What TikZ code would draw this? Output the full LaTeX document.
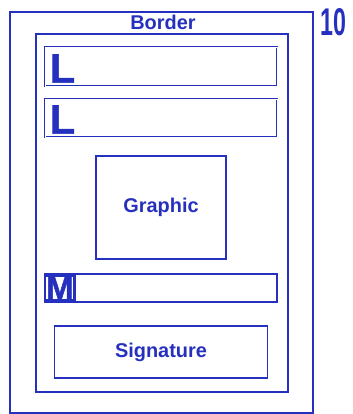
\documentclass[tikz,border=0pt]{standalone}
\usepackage{fontspec}
\setmainfont{Liberation Sans}
\newfontfamily\heavyfont{Liberation Sans Bold}[FakeBold=1.5]
\usetikzlibrary{positioning}
\definecolor{inkblue}{RGB}{38,48,190}

\begin{document}
\begin{tikzpicture}[node distance=4mm, every node/.style={inkblue,font=\bfseries\fontsize{17}{20}\selectfont,align=center,inner sep=0pt,outer sep=0pt}, frame/.style={draw=inkblue,line width=1.1pt,anchor=north west}, box/.style={draw=inkblue,line width=1.1pt,minimum width=6.96cm}, linebox/.style={box,double=white,line width=0.55pt,double distance=0.5pt}, letter/.style={text depth=0pt,font=\heavyfont\fontsize{35}{38}\selectfont}]
  \useasboundingbox (0,0) rectangle (10.56,-12.42);
  \node[frame,minimum width=9.09cm,minimum height=12.03cm] (outer) at (0.30,-0.36) {};
  \node[frame,minimum width=7.56cm,minimum height=10.74cm] (inner) at (1.08,-1.02) {};
  \node (title) at (4.89,-0.66) {Border};
  \node (num) at (9.99,-0.66) {\scalebox{0.6}[1]{\fontsize{33}{36}\selectfont 10}};
  \node[linebox,minimum height=1.17cm,anchor=north west] (l1) at (1.35,-1.41) {};
  \node[linebox,minimum height=1.14cm,below=0.39cm of l1] (l2) {};
  \node[box,minimum width=3.90cm,minimum height=3.09cm,below=0.57cm of l2] (graphic) {Graphic};
  \node[box,minimum height=0.84cm,below=0.45cm of graphic] (mline) {};
  \node[box,minimum width=6.39cm,minimum height=1.56cm,below=0.72cm of mline] (sign) {Signature};
  % letters at the left end of each line
  \node[letter,above right=0.10cm and 0.15cm of l1.south west] (la) {L};
  \node[letter,above right=0.10cm and 0.15cm of l2.south west] (lb) {L};
  \node[letter,draw=inkblue,line width=2pt,inner sep=1pt,font=\heavyfont\fontsize{28}{30}\selectfont,anchor=west] (mm) at (mline.west) {M};
\end{tikzpicture}
\end{document}
